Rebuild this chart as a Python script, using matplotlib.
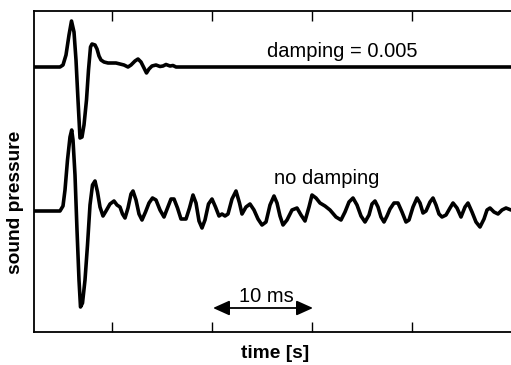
import matplotlib
matplotlib.use("Agg")
import matplotlib.pyplot as plt

plt.rcParams['font.family'] = ['Liberation Sans', 'DejaVu Sans']

# time axis in ms, pressure in arbitrary units
damped_t = [2.2, 4.8, 5.1, 5.4, 5.7, 5.95, 6.2, 6.4, 6.6, 6.8, 7.0, 7.2, 7.45, 7.65, 7.85,
            8.0, 8.3, 8.5, 8.7, 8.9, 9.2, 9.6, 10.4, 10.8, 11.2, 11.6, 11.9, 12.3, 12.6,
            12.9, 13.2, 13.45, 13.7, 14.0, 14.4, 14.8, 15.1, 15.4, 15.8, 16.1, 16.4, 49.9]
damped_p = [0, 0, 2, 12, 32, 46, 35, 7, -33, -71, -70, -58, -33, -3, 20,
            23, 22, 18, 11, 7, 5, 4, 4, 3, 2, 0, 2, 6, 8,
            5, -1, -6, -2, 1, 2, 0.5, 1, 2.5, 1, 1.5, 0, 0]

free_t = [2.2, 4.8, 5.1, 5.3, 5.55, 5.8, 5.97, 6.1, 6.3, 6.5, 6.7, 6.85, 7.05, 7.3, 7.55,
          7.8, 8.05, 8.3, 8.55, 8.8, 9.1, 9.4, 9.8, 10.2, 10.5, 10.8, 11.05, 11.3, 11.6,
          11.9, 12.1, 12.4, 12.7, 13.0, 13.35, 13.7, 14.05, 14.4, 14.8, 15.2, 15.55, 15.9,
          16.2, 16.55, 16.9, 17.4, 17.75, 18.1, 18.4, 18.7, 19.0, 19.3, 19.65, 20.0, 20.35,
          20.7, 21.0, 21.3, 21.6, 22.0, 22.4, 22.75, 23.0, 23.4, 23.8, 24.2, 24.6, 25.0,
          25.4, 25.8, 26.2, 26.5, 26.8, 27.1, 27.5, 28.0, 28.5, 28.9, 29.3, 29.7, 30.0,
          30.4, 30.8, 31.3, 31.8, 32.4, 32.9, 33.3, 33.7, 34.1, 34.5, 34.9, 35.3, 35.7,
          36.0, 36.3, 36.6, 36.9, 37.2, 37.5, 37.8, 38.2, 38.6, 39.0, 39.4, 39.7, 40.1,
          40.5, 40.8, 41.1, 41.4, 41.8, 42.1, 42.4, 42.7, 43.0, 43.4, 43.8, 44.1, 44.5,
          44.9, 45.3, 45.6, 46.0, 46.4, 46.8, 47.2, 47.5, 47.8, 48.2, 48.6, 49.0, 49.4, 49.9]
free_p = [0, 0, 5, 21, 51, 74, 81, 71, 36, -19, -69, -96, -92, -69, -34,
          6, 26, 30, 19, 4, -5, 0, 7, 10, 6, 4, -3, -7, 3,
          17, 20, 11, -3, -9, -1, 8, 13, 11, 1, -6, 3, 12,
          12, 3, -8, -8, 3, 16, 8, -10, -17, -9, 7, 12, 4,
          -5, -3, -5, -3, 12, 20, 8, -3, 4, 7, 1, -8, -14,
          -11, 6, 15, 8, -5, -14, -9, 1, 3, -4, -10, 4, 16,
          13, 8, 5, 1, -6, -9, -1, 9, 13, 6, -5, -11, -4,
          7, 10, 4, -6, -11, -5, 2, 8, 8, -1, -11, -9, 4,
          13, 8, -2, 0, 9, 13, 6, -3, -6, -4, 3, 8, 3,
          -6, 4, 8, -1, -11, -16, -8, 1, 3, -1, -3, 1, 3, 1]

damped_offset = 144
xticks = [10, 20, 30, 40]

fig = plt.figure(figsize=(5.11, 3.65), dpi=100)
ax = fig.add_axes([34/511, 33/365, 1 - 34/511, 321/365])

ax.plot(damped_t, [p + damped_offset for p in damped_p], color='black', lw=2.6,
        solid_joinstyle='round', solid_capstyle='round')
ax.plot(free_t, free_p, color='black', lw=2.6, solid_joinstyle='round', solid_capstyle='round')

ax.set_xlim(2.2, 49.9)
ax.set_ylim(-121, 200)
ax.set_xticks(xticks)
ax.set_xticklabels([])
ax.set_yticks([])
ax.tick_params(axis='x', direction='in', length=7, width=1.0, top=True, bottom=True)
for s in ['left', 'top', 'bottom']:
    ax.spines[s].set_linewidth(1.3)
ax.spines['right'].set_visible(False)

ax.text(33.0, 159.5, 'damping = 0.005', ha='center', va='center', fontsize=14.5)
ax.text(31.5, 32, 'no damping', ha='center', va='center', fontsize=14.5)

ax.annotate('', xy=(20.1, -97), xytext=(30.1, -97),
            arrowprops=dict(arrowstyle='<|-|>,head_length=1.0,head_width=0.45',
                            color='black', lw=1.3, shrinkA=0, shrinkB=0))
ax.text(25.4, -86, '10 ms', ha='center', va='center', fontsize=14.5)

fig.text(275.5/511, 1 - 353/365, 'time [s]', ha='center', va='center',
         fontsize=13.8, fontweight='bold')
fig.text(16/511, 1 - 202/365, 'sound pressure', ha='center', va='center',
         fontsize=13.8, fontweight='bold', rotation=90)

fig.savefig('out.png', dpi=100)
